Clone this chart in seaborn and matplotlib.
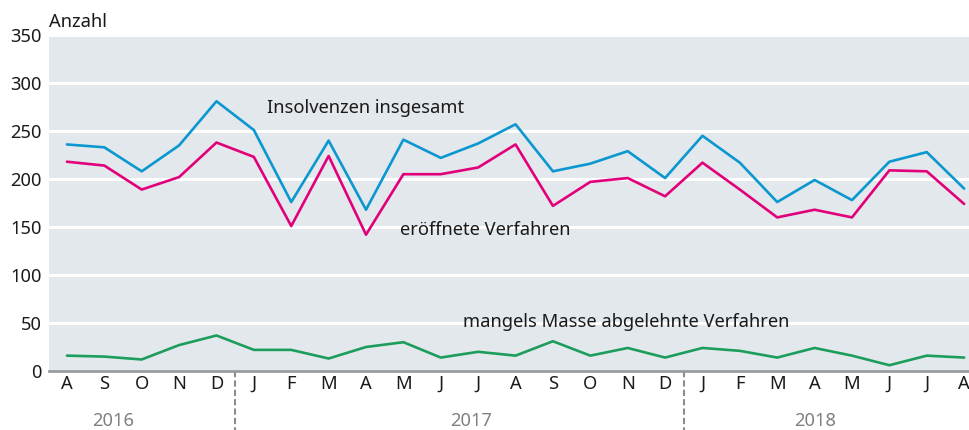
import matplotlib
matplotlib.use("Agg")
import matplotlib.pyplot as plt
import matplotlib.transforms as mtransforms
import seaborn as sns
import pandas as pd

months = ["A", "S", "O", "N", "D",
          "J", "F", "M", "A", "M", "J", "J", "A", "S", "O", "N", "D",
          "J", "F", "M", "A", "M", "J", "J", "A"]
insgesamt = [236, 233, 208, 235, 281, 251, 176, 240, 168, 241, 222, 237, 257,
             208, 216, 229, 201, 245, 217, 176, 199, 178, 218, 228, 190]
eroeffnet = [218, 214, 189, 202, 238, 223, 151, 224, 142, 205, 205, 212, 236,
             172, 197, 201, 182, 217, 189, 160, 168, 160, 209, 208, 174]
abgelehnt = [16, 15, 12, 27, 37, 22, 22, 13, 25, 30, 14, 20, 16,
             31, 16, 24, 14, 24, 21, 14, 24, 16, 6, 16, 14]
years = ["2016", "2017", "2018"]
series_names = ["Insolvenzen insgesamt", "eröffnete Verfahren",
                "mangels Masse abgelehnte Verfahren"]

sns.set_theme(style="white")
plt.rcParams["font.family"] = ["Noto Sans", "DejaVu Sans"]

idx = list(range(len(months)))
df = pd.DataFrame({
    "x": idx * 3,
    "value": insgesamt + eroeffnet + abgelehnt,
    "series": [series_names[0]] * len(idx) + [series_names[1]] * len(idx)
              + [series_names[2]] * len(idx),
})
palette = {series_names[0]: "#0b97cf", series_names[1]: "#e2007a",
           series_names[2]: "#1d9d5b"}

fs = 13.2
fig = plt.figure(figsize=(9.69, 4.30), dpi=100)
ax = fig.add_axes([49 / 969, 59 / 430, 920 / 969, 336 / 430])
ax.set_facecolor("#e3e8ec")

sns.lineplot(data=df, x="x", y="value", hue="series", palette=palette,
             linewidth=1.9, legend=False, ax=ax)

ax.set_xlim(-0.48, 24.13)
ax.set_ylim(0, 350)
ax.set_yticks(range(0, 351, 50))
ax.yaxis.grid(True, color="white", linewidth=2.2)
ax.set_axisbelow(True)
for s in ["top", "right", "left"]:
    ax.spines[s].set_visible(False)
ax.spines["bottom"].set_color("#9a9a9a")
ax.spines["bottom"].set_linewidth(2)
ax.set_xticks(idx)
ax.set_xticklabels(months)
ax.tick_params(axis="x", length=0, pad=3, labelsize=fs, colors="#1a1a1a")
ax.tick_params(axis="y", length=0, pad=5, labelsize=fs, colors="#1a1a1a")
ax.set_xlabel("")
ax.set_ylabel("")

ax.text(0.0, 1.012, "Anzahl", transform=ax.transAxes, ha="left", va="bottom",
        fontsize=fs, color="#1a1a1a")

ax.text(5.35, 274, series_names[0], fontsize=fs, color="#1a1a1a", va="center")
ax.text(8.9, 147, series_names[1], fontsize=fs, color="#1a1a1a", va="center")
ax.text(10.6, 51, series_names[2], fontsize=fs, color="#1a1a1a", va="center")

trans = mtransforms.blended_transform_factory(ax.transData, ax.transAxes)
for xs in [4.5, 16.5]:
    ax.plot([xs, xs], [0, -0.18], transform=trans, color="#8c8c8c",
            linestyle=(0, (3, 1.5)), linewidth=1.5, clip_on=False)
for xpos, yr in zip([1.23, 10.81, 20.01], years):
    ax.text(xpos, -0.15, yr, transform=trans, ha="center", va="center",
            fontsize=fs, color="#808080")

fig.savefig("out.png", dpi=100)
